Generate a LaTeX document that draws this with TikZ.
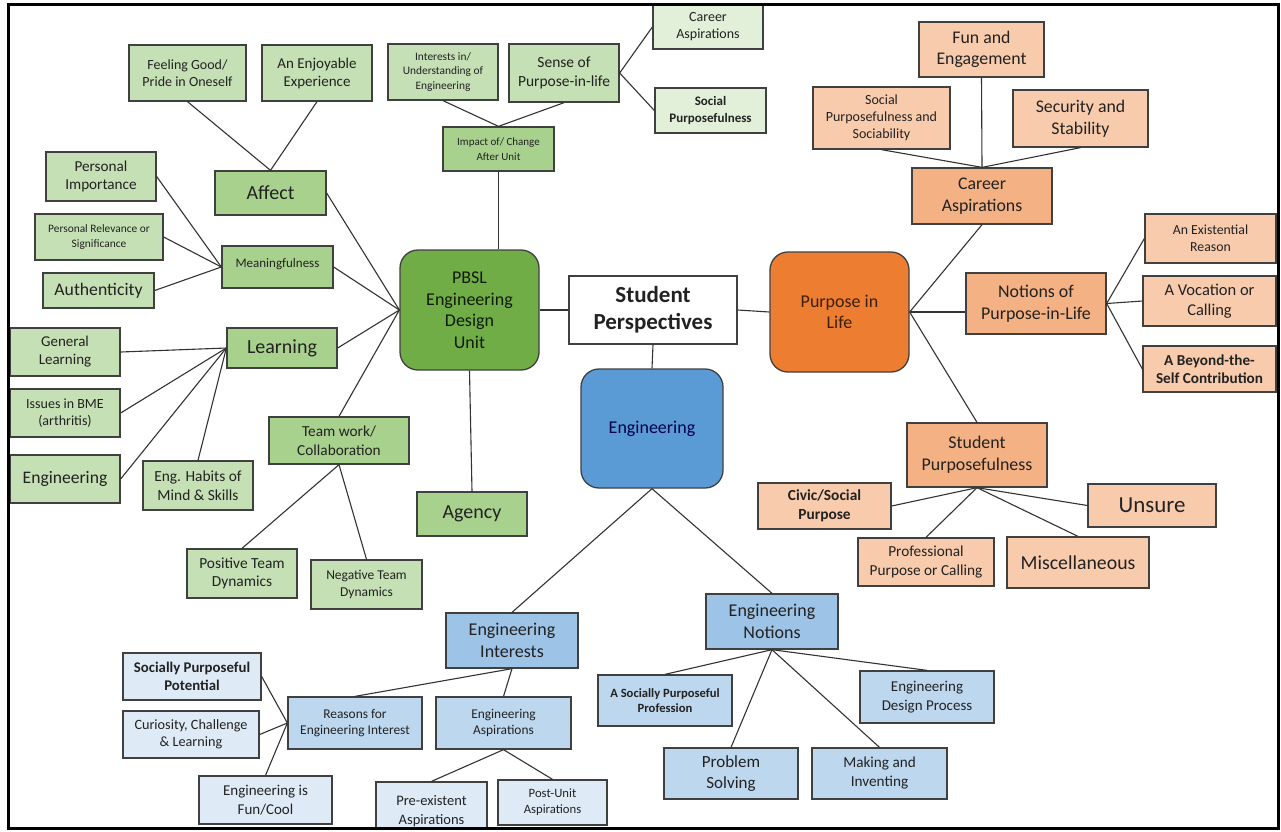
\documentclass[tikz,border=0pt]{standalone}
\usepackage{fontspec}
\setmainfont{Carlito}
\usetikzlibrary{calc}

\definecolor{ink}{HTML}{222222}
\definecolor{boxline}{HTML}{404040}
\definecolor{lnk}{HTML}{333333}
\definecolor{gDark}{HTML}{70AD47}
\definecolor{gMid}{HTML}{A9D18E}
\definecolor{gLight}{HTML}{C5E0B4}
\definecolor{gPale}{HTML}{E2F0D9}
\definecolor{bDark}{HTML}{5B9BD5}
\definecolor{bMid}{HTML}{9DC3E6}
\definecolor{bLight}{HTML}{BDD7EE}
\definecolor{bPale}{HTML}{DEEBF7}
\definecolor{oDark}{HTML}{ED7D31}
\definecolor{oMid}{HTML}{F4B183}
\definecolor{oLight}{HTML}{F8CBAD}

\begin{document}
\begin{tikzpicture}[x=1pt,y=-1pt,
  box/.style={draw=boxline, line width=1.3pt, align=center, inner sep=1pt, text=ink},
  sz/.style 2 args={minimum width=#1pt, minimum height=#2pt},
  fnt/.style 2 args={font=\fontsize{#1}{#2}\selectfont},
  hub/.style={box, rounded corners=18pt},
  link/.style={draw=lnk, line width=1.1pt},
  gd/.style={hub, fill=gDark, text=black!85!gDark},
  gm/.style={box, fill=gMid},
  gl/.style={box, fill=gLight},
  gp/.style={box, fill=gPale},
  bd/.style={hub, fill=bDark, text=black!70!blue},
  bm/.style={box, fill=bMid},
  bl/.style={box, fill=bLight},
  bp/.style={box, fill=bPale},
  od/.style={hub, fill=oDark, text=black!75!oDark},
  om/.style={box, fill=oMid},
  ol/.style={box, fill=oLight},
]
\fill[white] (0,0) rectangle (1281,831);
\useasboundingbox (0,0) rectangle (1281,831);

\begin{scope}
\clip (8,4) rectangle (1278,828);

% ---- centre
\node[box, fill=white, sz={168}{68}, fnt={23}{27}] (sp) at (653,310) {\textbf{Student}\\\textbf{Perspectives}};

% ---- PBSL unit branch (green)
\node[gd, sz={139}{120}, fnt={18}{21.5}] (pbsl) at (469.5,310) {PBSL\\Engineering\\Design\\Unit};
\node[gl, sz={117}{56}, fnt={14}{17}] (feel) at (187.5,73) {Feeling Good/\\Pride in Oneself};
\node[gl, sz={110}{56}, fnt={15}{18}] (enjoy) at (317,73) {An Enjoyable\\Experience};
\node[gl, sz={110}{56}, fnt={11.4}{14.5}] (interest) at (443,72) {Interests in/\\Understanding of\\Engineering};
\node[gl, sz={110}{58}, fnt={15.5}{19}] (sense) at (564,73) {Sense of\\Purpose-in-life};
\node[gp, sz={110}{44}, fnt={14}{17}] (gcareer) at (708,27) {Career\\Aspirations};
\node[gp, sz={111}{45}, fnt={13}{16.5}] (gsocial) at (710.5,110.5) {\textbf{Social}\\\textbf{Purposefulness}};
\node[gm, sz={111}{44}, fnt={11}{15}] (impact) at (498.5,149) {Impact of/ Change\\After Unit};
\node[gl, sz={110}{49}, fnt={15.2}{18.5}] (pimp) at (101,176.5) {Personal\\Importance};
\node[gm, sz={111}{44}, fnt={20}{24}] (affect) at (270.5,193) {Affect};
\node[gl, sz={128}{46}, fnt={11.4}{14.5}] (prel) at (99,237) {Personal Relevance or\\Significance};
\node[gm, sz={111}{42}, fnt={13}{16}, text depth=9pt] (meaning) at (277.5,267) {Meaningfulness};
\node[gl, sz={111}{35}, fnt={17.7}{21}] (auth) at (98.5,290.5) {Authenticity};
\node[gl, sz={110}{48}, fnt={15}{18}] (glearn) at (65,352) {General\\Learning};
\node[gm, sz={110}{40}, fnt={20}{24}] (learning) at (282,348) {Learning};
\node[gl, sz={110}{48}, fnt={14}{17.5}] (bme) at (65,413) {Issues in BME\\(arthritis)};
\node[gl, sz={110}{48}, fnt={17.6}{21}] (geng) at (65,479) {Engineering};
\node[gl, sz={110}{49}, fnt={15.4}{19}] (habits) at (198,485.5) {Eng. Habits of\\Mind \& Skills};
\node[gm, sz={140}{47}, fnt={15.3}{19}] (team) at (339,440.5) {Team work/\\Collaboration};
\node[gl, sz={110}{49}, fnt={15.4}{18.5}] (pos) at (242,573.5) {Positive Team\\Dynamics};
\node[gl, sz={111}{49}, fnt={13.5}{16.5}] (neg) at (366.5,584.5) {Negative Team\\Dynamics};
\node[gm, sz={110}{44}, fnt={20}{24}] (agency) at (472,514) {Agency};

% ---- engineering branch (blue)
\node[bd, sz={142}{119}, fnt={18}{21.5}] (eng) at (652,428.5) {Engineering};
\node[bm, sz={132}{55}, fnt={18}{22}] (einterest) at (512,640.5) {Engineering\\Interests};
\node[bl, sz={134}{52}, fnt={13.4}{16.5}] (reasons) at (355,723) {Reasons for\\Engineering Interest};
\node[bl, sz={135}{52}, fnt={13.4}{16.5}] (easp) at (503.5,723) {Engineering\\Aspirations};
\node[bp, sz={138}{47}, fnt={14.8}{18.5}] (spp) at (192,676.5) {\textbf{Socially Purposeful}\\\textbf{Potential}};
\node[bp, sz={136}{47}, fnt={14.2}{17.5}] (curio) at (191,734.5) {Curiosity, Challenge\\\& Learning};
\node[bp, sz={133}{48}, fnt={15}{18.5}] (fun) at (265.5,800) {Engineering is\\Fun/Cool};
\node[bp, sz={111}{58}, fnt={14.5}{18.5}] (pre) at (431.5,811) {Pre-existent\\Aspirations};
\node[bp, sz={109}{45}, fnt={12.7}{16}] (post) at (552.5,802.5) {Post-Unit\\Aspirations};
\node[bm, sz={132}{55}, fnt={18}{22}] (enotion) at (772,621.5) {Engineering\\Notions};
\node[bl, sz={134}{51}, fnt={12.6}{15.5}] (sppro) at (665,700.5) {\textbf{A Socially Purposeful}\\\textbf{Profession}};
\node[bl, sz={134}{52}, fnt={15}{18.5}] (edp) at (927,697) {Engineering\\Design Process};
\node[bl, sz={134}{51}, fnt={17}{21}] (prob) at (731,773.5) {Problem\\Solving};
\node[bl, sz={135}{51}, fnt={15.2}{19}] (make) at (879.5,773.5) {Making and\\Inventing};

% ---- purpose-in-life branch (orange)
\node[od, sz={139}{120}, fnt={18}{21.5}] (pil) at (839.5,312) {Purpose in\\Life};
\node[om, sz={140}{56}, fnt={17.8}{21.5}] (ocareer) at (982,196) {Career\\Aspirations};
\node[ol, sz={125}{55}, fnt={17.8}{21.5}] (funeng) at (981.5,49.5) {Fun and\\Engagement};
\node[ol, sz={137}{62}, fnt={14}{17}] (sps) at (881.5,118) {Social\\Purposefulness and\\Sociability};
\node[ol, sz={135}{57}, fnt={17.8}{21.5}] (sec) at (1080.5,118.5) {Security and\\Stability};
\node[om, sz={140}{61}, fnt={17.9}{22}] (notions) at (1036,303.5) {Notions of\\Purpose-in-Life};
\node[ol, sz={131}{49}, fnt={13.8}{17}] (exist) at (1210.5,238.5) {An Existential\\Reason};
\node[ol, sz={133}{50}, fnt={16.5}{20}] (voc) at (1209.5,301) {A Vocation or\\Calling};
\node[ol, sz={133}{46}, fnt={15.2}{18.5}] (beyond) at (1209.5,369) {\textbf{A Beyond-the-}\\\textbf{Self Contribution}};
\node[om, sz={140}{64}, fnt={17.9}{22}] (spurp) at (977,455) {Student\\Purposefulness};
\node[ol, sz={133}{46}, fnt={15.4}{19}] (civic) at (824.5,506) {\textbf{Civic/Social}\\\textbf{Purpose}};
\node[ol, sz={136}{48}, fnt={15.3}{19}] (prof) at (926,562) {Professional\\Purpose or Calling};
\node[ol, sz={142}{51}, fnt={19.8}{24}] (misc) at (1078,562.5) {Miscellaneous};
\node[ol, sz={128}{43}, fnt={22.9}{27}] (unsure) at (1152,505.5) {Unsure};

% ---- connectors: centre
\draw[link] (pbsl.east) -- (sp.west);
\draw[link] (sp.east) -- (pil.west);
\draw[link] (sp.south) -- (eng.north);

% ---- connectors: PBSL branch
\draw[link] (interest.south) -- (impact.north);
\draw[link] (sense.south) -- (impact.north);
\draw[link] (sense.east) -- (gcareer.west);
\draw[link] (sense.east) -- (gsocial.west);
\draw[link] (impact.south) -- (impact.south |- pbsl.north);
\draw[link] (feel.south) -- (affect.north);
\draw[link] (enjoy.south) -- (affect.north);
\draw[link] (affect.east) -- (pbsl.west);
\draw[link] (meaning.east) -- (pbsl.west);
\draw[link] (learning.east) -- (pbsl.west);
\draw[link] (team.north) -- (pbsl.west);
\draw[link] (pimp.east) -- (meaning.west);
\draw[link] (prel.east) -- (meaning.west);
\draw[link] (auth.east) -- (meaning.west);
\draw[link] (glearn.east) -- (learning.west);
\draw[link] (bme.east) -- (learning.west);
\draw[link] (geng.east) -- (learning.west);
\draw[link] (habits.north) -- (learning.west);
\draw[link] (team.south) -- (pos.north);
\draw[link] (team.south) -- (neg.north);
\draw[link] (pbsl.south) -- (agency.north);

% ---- connectors: engineering branch
\draw[link] (eng.south) -- (einterest.north);
\draw[link] (eng.south) -- (enotion.north);
\draw[link] (einterest.south) -- (reasons.north);
\draw[link] (einterest.south) -- (easp.north);
\draw[link] (spp.east) -- (reasons.west);
\draw[link] (curio.east) -- (reasons.west);
\draw[link] (fun.north) -- (reasons.west);
\draw[link] (easp.south) -- (pre.north);
\draw[link] (easp.south) -- (post.north);
\draw[link] (enotion.south) -- (sppro.north);
\draw[link] (enotion.south) -- (prob.north);
\draw[link] (enotion.south) -- (make.north);
\draw[link] (enotion.south) -- (edp.north);

% ---- connectors: purpose-in-life branch
\draw[link] (pil.east) -- (ocareer.south);
\draw[link] (pil.east) -- (pil.east -| notions.west);
\draw[link] (pil.east) -- (spurp.north);
\draw[link] (ocareer.north) -- (funeng.south);
\draw[link] (ocareer.north) -- (sps.south);
\draw[link] (ocareer.north) -- (sec.south);
\draw[link] (notions.east) -- (exist.west);
\draw[link] (notions.east) -- (voc.west);
\draw[link] (notions.east) -- (beyond.west);
\draw[link] (spurp.south) -- (civic.east);
\draw[link] (spurp.south) -- (prof.north);
\draw[link] (spurp.south) -- (misc.north);
\draw[link] (spurp.south) -- (unsure.west);
\end{scope}

% outer frame
\draw[line width=3pt, black] (8,4) rectangle (1278,828);
\end{tikzpicture}
\end{document}
